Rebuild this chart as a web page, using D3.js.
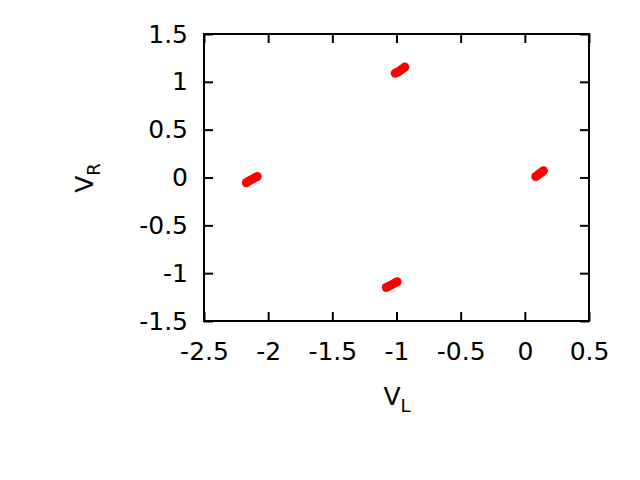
<!DOCTYPE html>
<html>
<head>
<meta charset="utf-8">
<script src="https://cdn.jsdelivr.net/npm/d3@7"></script>
<style>
  body { margin: 0; background: #fff; }
  svg text { font-family: "DejaVu Sans", sans-serif; fill: #000; }
</style>
</head>
<body>
<div id="chart"></div>
<script>
// points, four clusters
const vL = [-1.01, -0.995, -0.98, -0.965, -0.95, -0.935,
            -2.17, -2.155, -2.14, -2.12, -2.10, -2.085,
            0.085, 0.10, 0.115, 0.13, 0.145,
            -1.08, -1.065, -1.05, -1.03, -1.01, -0.995];
const vR = [1.09, 1.10, 1.11, 1.125, 1.14, 1.155,
            -0.055, -0.04, -0.03, -0.015, 0.0, 0.01,
            0.01, 0.025, 0.04, 0.055, 0.07,
            -1.15, -1.14, -1.13, -1.115, -1.10, -1.09];
const xTicks = [-2.5, -2, -1.5, -1, -0.5, 0, 0.5];
const yTicks = [-1.5, -1, -0.5, 0, 0.5, 1, 1.5];

const width = 640, height = 480;
const margin = {left: 204, right: 589, top: 34, bottom: 321};
const fontSize = 25;
const tickLen = 9;

const x = d3.scaleLinear().domain([-2.5, 0.5]).range([margin.left, margin.right]);
const y = d3.scaleLinear().domain([-1.5, 1.5]).range([margin.bottom, margin.top]);

const svg = d3.select("#chart").append("svg")
    .attr("width", width)
    .attr("height", height);

const fmt = d => String(d);

// axes with inward ticks, mirrored
svg.append("g").attr("transform", `translate(0,${margin.bottom})`)
    .call(d3.axisBottom(x).tickValues(xTicks).tickFormat(fmt).tickSizeInner(-tickLen).tickSizeOuter(0).tickPadding(21));
svg.append("g").attr("transform", `translate(0,${margin.top})`)
    .call(d3.axisTop(x).tickValues(xTicks).tickFormat("").tickSizeInner(-tickLen).tickSizeOuter(0));
svg.append("g").attr("transform", `translate(${margin.left},0)`)
    .call(d3.axisLeft(y).tickValues(yTicks).tickFormat(fmt).tickSizeInner(-tickLen).tickSizeOuter(0).tickPadding(16));
svg.append("g").attr("transform", `translate(${margin.right},0)`)
    .call(d3.axisRight(y).tickValues(yTicks).tickFormat("").tickSizeInner(-tickLen).tickSizeOuter(0));

svg.selectAll(".domain").remove();
svg.selectAll(".tick line").attr("stroke", "#000").attr("stroke-width", 2);
svg.selectAll(".tick text").style("font-size", fontSize + "px");

// frame
svg.append("rect")
    .attr("x", margin.left).attr("y", margin.top)
    .attr("width", margin.right - margin.left).attr("height", margin.bottom - margin.top)
    .attr("fill", "none").attr("stroke", "#000").attr("stroke-width", 2);

// points
svg.append("g").selectAll("circle")
    .data(vL.map((v, i) => [v, vR[i]]))
    .enter()
    .append("circle")
    .attr("cx", d => x(d[0]))
    .attr("cy", d => y(d[1]))
    .attr("r", 4.5)
    .attr("fill", "#ff0000");

// axis labels
const xl = svg.append("text")
    .attr("x", 397).attr("y", 405)
    .attr("text-anchor", "middle")
    .style("font-size", fontSize + "px");
xl.append("tspan").text("V");
xl.append("tspan").attr("dy", 7).style("font-size", "18px").text("L");

const yl = svg.append("text")
    .attr("transform", "translate(93,178) rotate(-90)")
    .attr("text-anchor", "middle")
    .style("font-size", fontSize + "px");
yl.append("tspan").text("V");
yl.append("tspan").attr("dy", 7).style("font-size", "18px").text("R");
</script>
</body>
</html>
